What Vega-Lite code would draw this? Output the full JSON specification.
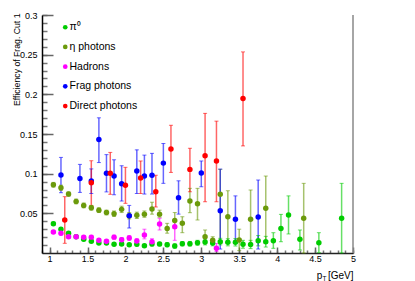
{
  "$schema": "https://vega.github.io/schema/vega-lite/v6.json",
  "width": 311,
  "height": 238,
  "autosize": {"type": "none"},
  "padding": {"left": 42, "top": 15, "right": 62, "bottom": 28},
  "background": "white",
  "config": {"view": {"stroke": null}, "font": "Liberation Sans"},
  "datasets": {
    "pts": [
      {"s":"π⁰","x":1.05,"y":0.037,"lo":0.035,"hi":0.039},
      {"s":"π⁰","x":1.15,"y":0.030,"lo":0.028,"hi":0.032},
      {"s":"π⁰","x":1.25,"y":0.025,"lo":0.023,"hi":0.027},
      {"s":"π⁰","x":1.35,"y":0.0205,"lo":0.0185,"hi":0.0225},
      {"s":"π⁰","x":1.45,"y":0.0172,"lo":0.0155,"hi":0.019},
      {"s":"π⁰","x":1.55,"y":0.0147,"lo":0.013,"hi":0.0165},
      {"s":"π⁰","x":1.65,"y":0.0126,"lo":0.011,"hi":0.0142},
      {"s":"π⁰","x":1.75,"y":0.0126,"lo":0.011,"hi":0.0142},
      {"s":"π⁰","x":1.85,"y":0.011,"lo":0.0095,"hi":0.0125},
      {"s":"π⁰","x":1.95,"y":0.0113,"lo":0.0097,"hi":0.013},
      {"s":"π⁰","x":2.05,"y":0.0105,"lo":0.009,"hi":0.0122},
      {"s":"π⁰","x":2.15,"y":0.011,"lo":0.009,"hi":0.013},
      {"s":"π⁰","x":2.25,"y":0.0092,"lo":0.0074,"hi":0.011},
      {"s":"π⁰","x":2.35,"y":0.0113,"lo":0.009,"hi":0.0135},
      {"s":"π⁰","x":2.45,"y":0.0113,"lo":0.009,"hi":0.0135},
      {"s":"π⁰","x":2.55,"y":0.0105,"lo":0.008,"hi":0.013},
      {"s":"π⁰","x":2.65,"y":0.0088,"lo":0.006,"hi":0.0115},
      {"s":"π⁰","x":2.75,"y":0.0117,"lo":0.009,"hi":0.0145},
      {"s":"π⁰","x":2.85,"y":0.0117,"lo":0.0088,"hi":0.0146},
      {"s":"π⁰","x":2.95,"y":0.013,"lo":0.0098,"hi":0.016},
      {"s":"π⁰","x":3.05,"y":0.0139,"lo":0.0102,"hi":0.0175},
      {"s":"π⁰","x":3.15,"y":0.0126,"lo":0.009,"hi":0.0162},
      {"s":"π⁰","x":3.25,"y":0.0143,"lo":0.0102,"hi":0.0185},
      {"s":"π⁰","x":3.35,"y":0.0135,"lo":0.009,"hi":0.018},
      {"s":"π⁰","x":3.45,"y":0.0135,"lo":0.0088,"hi":0.0182},
      {"s":"π⁰","x":3.55,"y":0.011,"lo":0.006,"hi":0.016},
      {"s":"π⁰","x":3.65,"y":0.0108,"lo":0.0055,"hi":0.016},
      {"s":"π⁰","x":3.75,"y":0.0155,"lo":0.009,"hi":0.022},
      {"s":"π⁰","x":3.85,"y":0.0143,"lo":0.0075,"hi":0.021},
      {"s":"π⁰","x":3.95,"y":0.0155,"lo":0.0059,"hi":0.0256},
      {"s":"π⁰","x":4.05,"y":0.031,"lo":0.0142,"hi":0.0487},
      {"s":"π⁰","x":4.15,"y":0.048,"lo":0.024,"hi":0.072},
      {"s":"π⁰","x":4.30,"y":0.0173,"lo":0.0038,"hi":0.029},
      {"s":"π⁰","x":4.55,"y":0.013,"lo":0.0005,"hi":0.0256},
      {"s":"π⁰","x":4.85,"y":0.0437,"lo":0.0,"hi":0.0878},
      {"s":"η photons","x":1.05,"y":0.086,"lo":0.083,"hi":0.089},
      {"s":"η photons","x":1.15,"y":0.0822,"lo":0.079,"hi":0.0855},
      {"s":"η photons","x":1.25,"y":0.0743,"lo":0.0715,"hi":0.077},
      {"s":"η photons","x":1.35,"y":0.065,"lo":0.062,"hi":0.068},
      {"s":"η photons","x":1.45,"y":0.060,"lo":0.057,"hi":0.063},
      {"s":"η photons","x":1.55,"y":0.057,"lo":0.054,"hi":0.060},
      {"s":"η photons","x":1.65,"y":0.054,"lo":0.051,"hi":0.057},
      {"s":"η photons","x":1.75,"y":0.051,"lo":0.048,"hi":0.054},
      {"s":"η photons","x":1.85,"y":0.0495,"lo":0.046,"hi":0.053},
      {"s":"η photons","x":1.95,"y":0.055,"lo":0.051,"hi":0.059},
      {"s":"η photons","x":2.05,"y":0.047,"lo":0.043,"hi":0.051},
      {"s":"η photons","x":2.15,"y":0.0475,"lo":0.0435,"hi":0.0515},
      {"s":"η photons","x":2.25,"y":0.049,"lo":0.045,"hi":0.053},
      {"s":"η photons","x":2.35,"y":0.0554,"lo":0.049,"hi":0.064},
      {"s":"η photons","x":2.45,"y":0.049,"lo":0.045,"hi":0.054},
      {"s":"η photons","x":2.55,"y":0.031,"lo":0.025,"hi":0.0374},
      {"s":"η photons","x":2.65,"y":0.041,"lo":0.031,"hi":0.051},
      {"s":"η photons","x":2.75,"y":0.0374,"lo":0.0256,"hi":0.0457},
      {"s":"η photons","x":2.85,"y":0.0655,"lo":0.0508,"hi":0.0815},
      {"s":"η photons","x":2.95,"y":0.062,"lo":0.0416,"hi":0.0815},
      {"s":"η photons","x":3.05,"y":0.0205,"lo":0.012,"hi":0.029},
      {"s":"η photons","x":3.15,"y":0.016,"lo":0.011,"hi":0.0205},
      {"s":"η photons","x":3.25,"y":0.074,"lo":0.012,"hi":0.1054},
      {"s":"η photons","x":3.35,"y":0.0457,"lo":0.012,"hi":0.0785},
      {"s":"η photons","x":3.5,"y":0.0164,"lo":0.003,"hi":0.03},
      {"s":"η photons","x":3.65,"y":0.0424,"lo":0.012,"hi":0.0794},
      {"s":"η photons","x":3.85,"y":0.0563,"lo":0.012,"hi":0.097},
      {"s":"η photons","x":4.35,"y":0.0437,"lo":0.0,"hi":0.0878},
      {"s":"Hadrons","x":1.05,"y":0.0265,"lo":0.0245,"hi":0.0285},
      {"s":"Hadrons","x":1.15,"y":0.0248,"lo":0.0228,"hi":0.0268},
      {"s":"Hadrons","x":1.25,"y":0.0205,"lo":0.0185,"hi":0.0225},
      {"s":"Hadrons","x":1.35,"y":0.0205,"lo":0.0185,"hi":0.0225},
      {"s":"Hadrons","x":1.45,"y":0.0198,"lo":0.0178,"hi":0.022},
      {"s":"Hadrons","x":1.55,"y":0.020,"lo":0.0178,"hi":0.0222},
      {"s":"Hadrons","x":1.65,"y":0.016,"lo":0.0138,"hi":0.0182},
      {"s":"Hadrons","x":1.75,"y":0.0147,"lo":0.0125,"hi":0.017},
      {"s":"Hadrons","x":1.85,"y":0.020,"lo":0.0175,"hi":0.0225},
      {"s":"Hadrons","x":1.95,"y":0.0167,"lo":0.014,"hi":0.0195},
      {"s":"Hadrons","x":2.05,"y":0.019,"lo":0.016,"hi":0.022},
      {"s":"Hadrons","x":2.15,"y":0.015,"lo":0.012,"hi":0.018},
      {"s":"Hadrons","x":2.25,"y":0.0227,"lo":0.0178,"hi":0.030},
      {"s":"Hadrons","x":2.35,"y":0.0142,"lo":0.011,"hi":0.018},
      {"s":"Hadrons","x":2.45,"y":0.0365,"lo":0.029,"hi":0.0437},
      {"s":"Hadrons","x":2.65,"y":0.0331,"lo":0.016,"hi":0.0416},
      {"s":"Hadrons","x":3.2,"y":0.0059,"lo":0.002,"hi":0.012},
      {"s":"Frag photons","x":1.15,"y":0.0982,"lo":0.076,"hi":0.1205},
      {"s":"Frag photons","x":1.40,"y":0.094,"lo":0.0764,"hi":0.1117},
      {"s":"Frag photons","x":1.55,"y":0.0907,"lo":0.075,"hi":0.106},
      {"s":"Frag photons","x":1.65,"y":0.1432,"lo":0.114,"hi":0.1704},
      {"s":"Frag photons","x":1.75,"y":0.1004,"lo":0.077,"hi":0.124},
      {"s":"Frag photons","x":1.85,"y":0.097,"lo":0.0734,"hi":0.1175},
      {"s":"Frag photons","x":1.95,"y":0.0873,"lo":0.0655,"hi":0.110},
      {"s":"Frag photons","x":2.05,"y":0.047,"lo":0.0315,"hi":0.060},
      {"s":"Frag photons","x":2.15,"y":0.1035,"lo":0.075,"hi":0.130},
      {"s":"Frag photons","x":2.25,"y":0.097,"lo":0.0743,"hi":0.1234},
      {"s":"Frag photons","x":2.35,"y":0.0979,"lo":0.0743,"hi":0.1256},
      {"s":"Frag photons","x":2.50,"y":0.1133,"lo":0.0878,"hi":0.138},
      {"s":"Frag photons","x":2.70,"y":0.0697,"lo":0.049,"hi":0.091},
      {"s":"Frag photons","x":3.00,"y":0.1008,"lo":0.0835,"hi":0.116},
      {"s":"Frag photons","x":3.25,"y":0.0533,"lo":0.005,"hi":0.1058},
      {"s":"Frag photons","x":3.45,"y":0.0424,"lo":0.012,"hi":0.072},
      {"s":"Frag photons","x":3.75,"y":0.0455,"lo":0.005,"hi":0.092},
      {"s":"Direct photons","x":1.20,"y":0.0416,"lo":0.0122,"hi":0.071},
      {"s":"Direct photons","x":1.55,"y":0.0886,"lo":0.0596,"hi":0.1163},
      {"s":"Direct photons","x":1.80,"y":0.1004,"lo":0.074,"hi":0.1268},
      {"s":"Direct photons","x":2.00,"y":0.0853,"lo":0.0626,"hi":0.108},
      {"s":"Direct photons","x":2.20,"y":0.0944,"lo":0.075,"hi":0.116},
      {"s":"Direct photons","x":2.40,"y":0.0772,"lo":0.058,"hi":0.098},
      {"s":"Direct photons","x":2.60,"y":0.131,"lo":0.1016,"hi":0.161},
      {"s":"Direct photons","x":2.85,"y":0.1054,"lo":0.0772,"hi":0.132},
      {"s":"Direct photons","x":3.05,"y":0.1226,"lo":0.0646,"hi":0.176},
      {"s":"Direct photons","x":3.20,"y":0.116,"lo":0.0646,"hi":0.1662},
      {"s":"Direct photons","x":3.55,"y":0.1948,"lo":0.135,"hi":0.2535}
    ]
  },
  "data": {"name": "pts"},
  "layer": [
    {
      "mark": {"type": "rule", "strokeWidth": 1.5, "opacity": 0.6},
      "encoding": {
        "x": {"field": "x", "type": "quantitative",
              "scale": {"domain": [0.9, 5], "nice": false, "zero": false},
              "axis": {"orient": "bottom", "values": [0.9,1,1.1,1.2,1.3,1.4,1.5,1.6,1.7,1.8,1.9,2,2.1,2.2,2.3,2.4,2.5,2.6,2.7,2.8,2.9,3,3.1,3.2,3.3,3.4,3.5,3.6,3.7,3.8,3.9,4,4.1,4.2,4.3,4.4,4.5,4.6,4.7,4.8,4.9,5],
                       "labels": false, "domain": false, "grid": false, "tickSize": -3, "tickColor": "#777", "tickWidth": 1.5,
                       "title": "T", "titleFontSize": 6.5, "titleFontWeight": "normal", "titleColor": "#000",
                       "titleX": 282, "titleY": 27, "titleAlign": "center", "titleBaseline": "alphabetic", "titleAnchor": null}},
        "y": {"field": "lo", "type": "quantitative",
              "scale": {"domain": [0, 0.3], "nice": false, "zero": false},
              "axis": {"orient": "left", "values": [0.01,0.02,0.03,0.04,0.05,0.06,0.07,0.08,0.09,0.1,0.11,0.12,0.13,0.14,0.15,0.16,0.17,0.18,0.19,0.2,0.21,0.22,0.23,0.24,0.25,0.26,0.27,0.28,0.29,0.3],
                       "labels": false, "domain": false, "grid": false, "tickSize": -5, "tickColor": "#777", "tickWidth": 1.5, "title": null}},
        "y2": {"field": "hi"},
        "color": {"field": "s", "type": "nominal",
                  "scale": {"domain": ["π⁰", "η photons", "Hadrons", "Frag photons", "Direct photons"],
                            "range": ["#00cc00", "#6b9a0b", "#ff00ff", "#0000ff", "#ff0000"]},
                  "legend": null}
      }
    },
    {
      "mark": {"type": "tick", "orient": "horizontal", "size": 4, "thickness": 1, "opacity": 0.6},
      "encoding": {
        "x": {"field": "x", "type": "quantitative", "axis": null},
        "y": {"field": "lo", "type": "quantitative", "axis": null},
        "color": {"field": "s", "type": "nominal", "legend": null}
      }
    },
    {
      "mark": {"type": "tick", "orient": "horizontal", "size": 4, "thickness": 1, "opacity": 0.6},
      "encoding": {
        "x": {"field": "x", "type": "quantitative", "axis": null},
        "y": {"field": "hi", "type": "quantitative", "axis": null},
        "color": {"field": "s", "type": "nominal", "legend": null}
      }
    },
    {
      "mark": {"type": "circle", "size": 30, "opacity": 1},
      "encoding": {
        "x": {"field": "x", "type": "quantitative",
              "axis": {"orient": "bottom", "values": [1,1.5,2,2.5,3,3.5,4,4.5,5], "format": "~g",
                       "tickSize": -6, "tickColor": "#666", "tickWidth": 1.5, "domainColor": "#222", "domainWidth": 1.5,
                       "labelFontSize": 9, "labelColor": "#000", "labelPadding": 7, "labelFlush": false, "grid": false,
                       "title": "p\u00a0\u00a0[GeV]", "titleFontSize": 10, "titleFontWeight": "normal", "titleColor": "#000",
                       "titleX": 311, "titleY": 25, "titleAlign": "right", "titleBaseline": "alphabetic", "titleAnchor": null}},
        "y": {"field": "y", "type": "quantitative",
              "axis": {"orient": "left", "values": [0.05,0.1,0.15,0.2,0.25,0.3], "format": "~g",
                       "tickSize": -11, "tickColor": "#666", "tickWidth": 1.5, "domainColor": "#000", "domainWidth": 1.5,
                       "labelFontSize": 9, "labelColor": "#000", "labelPadding": 16, "labelFlush": false, "grid": false,
                       "title": "Efficiency of Frag. Cut 1", "titleFontSize": 8.7, "titleFontWeight": "normal", "titleColor": "#000",
                       "titleX": -23, "titleY": -2, "titleAngle": 270, "titleAlign": "right", "titleBaseline": "alphabetic", "titleAnchor": null}},
        "color": {"field": "s", "type": "nominal",
                  "legend": {"orient": "none", "legendX": 18, "legendY": 7, "title": null, "padding": 0,
                             "symbolType": "circle", "symbolSize": 22, "symbolStrokeWidth": 0, "symbolOpacity": 1,
                             "labelFontSize": 10.5, "labelFont": "Liberation Sans", "labelColor": "#000", "labelOffset": -1,
                             "rowPadding": 8.7}}
      }
    },
    {
      "data": {"values": [{}]},
      "mark": {"type": "rule", "color": "#888", "strokeWidth": 1.5},
      "encoding": {"x": {"datum": 5, "type": "quantitative", "axis": null}}
    }
  ],
  "resolve": {"axis": {"x": "independent", "y": "independent"}, "legend": {"color": "independent"}}
}
